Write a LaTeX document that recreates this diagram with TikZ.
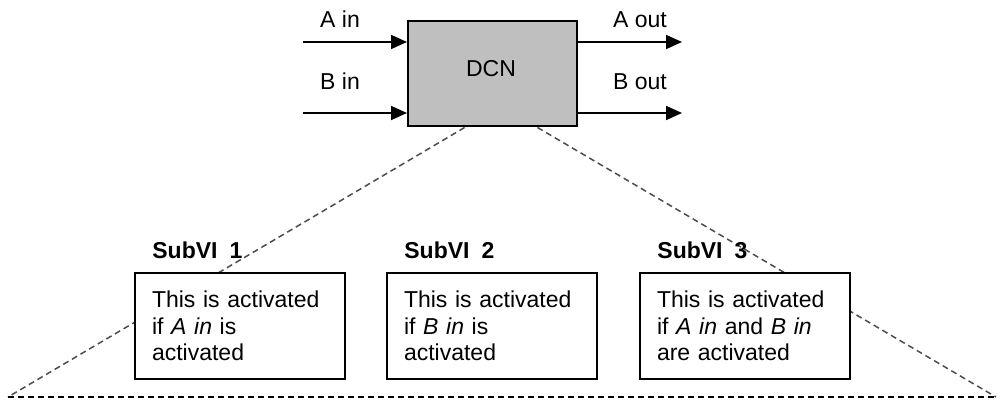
\documentclass[tikz,border=0pt]{standalone}
\usepackage{fontspec}
\setmainfont{Liberation Sans}
\usetikzlibrary{arrows.meta,calc}
\begin{document}
\begin{tikzpicture}[x=0.5pt,y=-0.5pt,
  txt/.style={font=\fontsize{11.5}{13.25}\selectfont, inner sep=0pt},
  sig/.style={line width=0.85pt, -{Triangle[length=8pt,width=7pt]}},
  block/.style={draw, line width=1pt, fill=black!25, minimum width=84.5pt, minimum height=52.5pt, inner sep=0pt},
  subvi/.style={draw, line width=0.9pt, fill=white, minimum width=105pt, minimum height=53pt,
                text width=88pt, inner xsep=8.5pt, inner ysep=0pt, align=left,
                font=\fontsize{11.5}{13.25}\selectfont},
  title/.style={font=\bfseries\fontsize{11.5}{13.25}\selectfont, inner sep=0pt, anchor=base west},
  zoomline/.style={dash pattern=on 3pt off 2pt, line width=0.75pt, draw=black!70},
]
\useasboundingbox (0,0) rectangle (1004,400);

% DCN block
\node[block] (dcn) at (492.5,74) {};
\node[txt, anchor=base] (dcnlbl) at (491,77) {DCN};

% inputs and outputs
\coordinate (ain) at (303,42);
\coordinate (bin) at (303,113);
\coordinate (aout) at (682,42);
\coordinate (bout) at (682,113);
\draw[sig] (ain) -- (ain -| dcn.west);
\draw[sig] (bin) -- (bin -| dcn.west);
\draw[sig] (aout -| dcn.east) -- (aout);
\draw[sig] (bout -| dcn.east) -- (bout);
\node[txt, anchor=base] (ainlbl) at (340,28) {A in};
\node[txt, anchor=base] (binlbl) at (340,90) {B in};
\node[txt, anchor=base] (aoutlbl) at (640,28) {A out};
\node[txt, anchor=base] (boutlbl) at (640,90) {B out};

% zoom-out lines from the block to the sub-VI area
\coordinate (zl) at ($(dcn.south west)!0.337!(dcn.south east)$);
\coordinate (zr) at ($(dcn.south west)!0.763!(dcn.south east)$);
\coordinate (bl) at (8,397);
\coordinate (br) at (996,397);
\draw[zoomline] (zl) -- (bl);
\draw[zoomline] (zr) -- (br);
\draw[dash pattern=on 3pt off 2pt, line width=0.75pt] (bl) -- (br);

% sub-VIs
\node[title] (t1) at (152,258) {SubVI\hspace{0.25em} 1};
\node[title] (t2) at (404,258) {SubVI\hspace{0.25em} 2};
\node[title] (t3) at (657,258) {SubVI\hspace{0.25em} 3};
\node[subvi] (s1) at (240,326) {This is activated\\ if \emph{A in} is\\ activated};
\node[subvi] (s2) at (492,326) {This is activated\\ if \emph{B in} is\\ activated};
\node[subvi] (s3) at (745,326) {This is activated\\ if \emph{A in} and \emph{B in}\\ are activated};
\end{tikzpicture}
\end{document}
